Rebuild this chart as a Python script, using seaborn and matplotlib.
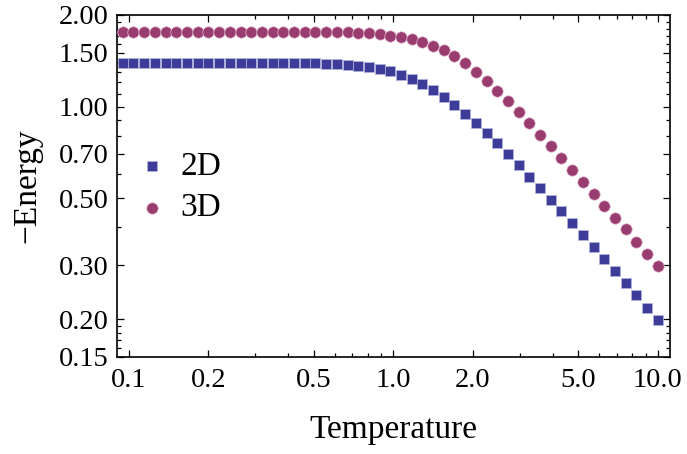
import numpy as np
import pandas as pd
import matplotlib
matplotlib.use("Agg")
import matplotlib.pyplot as plt
import seaborn as sns
from matplotlib.ticker import FixedLocator, FixedFormatter, NullFormatter

# ---- data ----
T = [0.0949, 0.1041, 0.1143, 0.1255, 0.1377, 0.1512, 0.1660, 0.1822, 0.2000, 0.2195,
     0.2409, 0.2644, 0.2902, 0.3186, 0.3497, 0.3837, 0.4212, 0.4623, 0.5075, 0.5570,
     0.6114, 0.6711, 0.7366, 0.8085, 0.8874, 0.9739, 1.069, 1.173, 1.288, 1.414,
     1.552, 1.703, 1.870, 2.052, 2.252, 2.472, 2.713, 2.978, 3.268, 3.587,
     3.938, 4.322, 4.745, 5.208, 5.716, 6.274, 6.887, 7.559, 8.297, 9.107, 10.00]

E2D = [1.390, 1.390, 1.390, 1.390, 1.390, 1.390, 1.390, 1.390, 1.390, 1.390,
       1.390, 1.390, 1.390, 1.390, 1.390, 1.390, 1.390, 1.389, 1.387, 1.385,
       1.382, 1.372, 1.361, 1.349, 1.331, 1.304, 1.271, 1.234, 1.185, 1.135,
       1.076, 1.013, 0.945, 0.882, 0.818, 0.758, 0.699, 0.642, 0.586, 0.539,
       0.493, 0.452, 0.413, 0.377, 0.345, 0.315, 0.287, 0.262, 0.239, 0.217, 0.198]

E3D = [1.760, 1.760, 1.760, 1.760, 1.760, 1.760, 1.760, 1.760, 1.760, 1.760,
       1.760, 1.760, 1.760, 1.760, 1.760, 1.760, 1.760, 1.760, 1.759, 1.759,
       1.758, 1.753, 1.749, 1.740, 1.733, 1.709, 1.692, 1.668, 1.633, 1.582,
       1.535, 1.469, 1.394, 1.302, 1.215, 1.125, 1.043, 0.959, 0.884, 0.807,
       0.741, 0.678, 0.619, 0.565, 0.515, 0.470, 0.430, 0.394, 0.358, 0.328, 0.299]

series_names = ["2D", "3D"]

xticks = [0.1, 0.2, 0.5, 1.0, 2.0, 5.0, 10.0]
xticklabels = ["0.1", "0.2", "0.5", "1.0", "2.0", "5.0", "10.0"]
xminor = [0.3, 0.4, 0.6, 0.7, 0.8, 0.9, 3, 4, 6, 7, 8, 9]
yticks = [0.15, 0.2, 0.3, 0.5, 0.7, 1.0, 1.5, 2.0]
yticklabels = ["0.15", "0.20", "0.30", "0.50", "0.70", "1.00", "1.50", "2.00"]
yminor = [0.16, 0.17, 0.18, 0.19, 0.4, 0.6, 0.8, 0.9, 1.1, 1.2, 1.3, 1.4,
          1.6, 1.7, 1.8, 1.9]

# ---- style ----
sns.set_theme(style="ticks")
plt.rcParams["font.family"] = ["Liberation Serif", "DejaVu Serif"]
plt.rcParams["text.color"] = "black"
plt.rcParams["axes.labelcolor"] = "black"
plt.rcParams["xtick.color"] = "black"
plt.rcParams["ytick.color"] = "black"
plt.rcParams["axes.edgecolor"] = "black"

fig = plt.figure(figsize=(6.87, 4.54), dpi=100)
ax = fig.add_axes([117 / 687, 1 - 357 / 454, (670 - 117) / 687, (357 - 15) / 454])

blue = "#3d3d99"
purple = "#993d71"

sns.scatterplot(x=T, y=E2D, marker="s", s=46, color=blue, edgecolor="#b4b4e0",
                linewidth=0.5, label=series_names[0], ax=ax, zorder=3)
sns.scatterplot(x=T, y=E3D, marker="o", s=68, color=purple, edgecolor="#e6bcd2",
                linewidth=0.5, label=series_names[1], ax=ax, zorder=3)

ax.set_xscale("log")
ax.set_yscale("log")
ax.set_xlim(0.0902, 11.12)
ax.set_ylim(0.15, 2.0)

ax.xaxis.set_major_locator(FixedLocator(xticks))
ax.xaxis.set_major_formatter(FixedFormatter(xticklabels))
ax.xaxis.set_minor_locator(FixedLocator(xminor))
ax.xaxis.set_minor_formatter(NullFormatter())
ax.yaxis.set_major_locator(FixedLocator(yticks))
ax.yaxis.set_major_formatter(FixedFormatter(yticklabels))
ax.yaxis.set_minor_locator(FixedLocator(yminor))
ax.yaxis.set_minor_formatter(NullFormatter())

ax.tick_params(which="both", direction="in", top=True, right=True,
               color="black", labelcolor="black", width=0.9)
ax.tick_params(which="major", length=5, labelsize=20.5, pad=6)
ax.tick_params(axis="x", which="major", pad=8)
ax.tick_params(which="minor", length=2.6)

for sp in ax.spines.values():
    sp.set_linewidth(1.2)
    sp.set_color("black")

ax.set_xlabel("Temperature", fontsize=24, labelpad=15.5, color="black")
ax.set_ylabel("\u2212Energy", fontsize=24, labelpad=12, color="black")

leg = ax.legend(loc="center left", bbox_to_anchor=(0.0335, 0.4956), frameon=False,
                fontsize=24, borderpad=0, handlelength=1.0, handletextpad=0.35,
                labelspacing=0.32, borderaxespad=0)
for t in leg.get_texts():
    t.set_color("black")

fig.savefig("out.png", dpi=100)
